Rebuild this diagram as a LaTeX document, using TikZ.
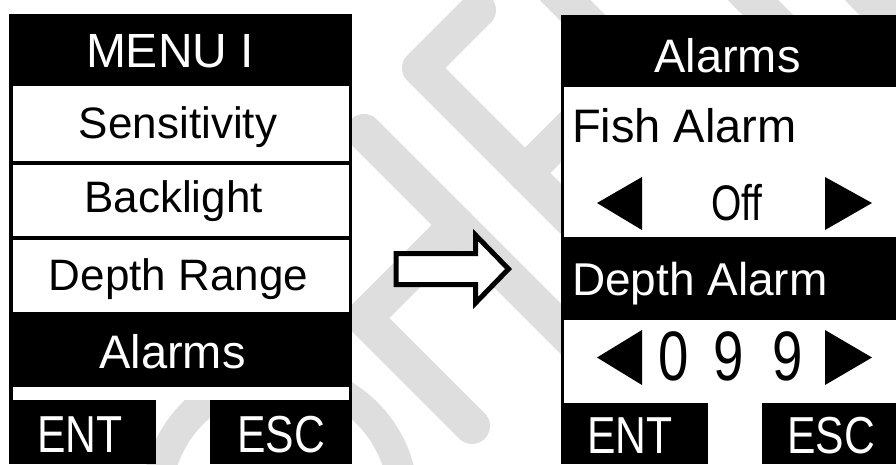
\documentclass[tikz,border=0pt]{standalone}
\usepackage{fontspec}
\setmainfont{Liberation Sans}
\newfontfamily\lcdnarrow{Liberation Sans}[FakeStretch=0.78]
\newfontfamily\keynarrow{Liberation Sans}[FakeStretch=0.82]
\newcommand\lcdsize[1]{\fontsize{#1pt}{#1pt}\selectfont}
\definecolor{wmgray}{HTML}{DEDEDE}

\begin{document}
\begin{tikzpicture}[x=1pt,y=-1pt]
    \tikzstyle{every node} = [inner sep=0pt, outer sep=0pt]
    \tikzstyle{menurow} = [fill=white, minimum width=336pt]
    \tikzstyle{softkey} = [fill=black, anchor=north west, minimum height=64pt]
    \tikzstyle{lcd} = [anchor=base]
    \tikzstyle{inv} = [anchor=base, text=white]
    \tikzstyle{keytext} = [anchor=base, text=white, font=\keynarrow\lcdsize{52}]
    \tikzstyle{wmark} = [line width=36pt, draw=wmgray, line cap=round, line join=round]

    \useasboundingbox (0,0) rectangle (896,464);
    \clip (0,0) rectangle (896,464);
    \fill[white] (0,0) rectangle (896,464);

    % watermark
    \draw[wmark] (478,10) -- (420,68) -- (640,288);
    \draw[wmark] (525,173) -- (630,68);
    \draw[wmark] (364,132) -- (640,408);
    \draw[wmark] (457,225) -- (364,318) -- (472,426);
    \draw[wmark, line width=30pt] (280,500) circle[radius=123];
    \draw[wmark] (555,-10) -- (620,55);
    \draw[wmark] (743,-10) -- (800,47);
    \draw[wmark] (860,-10) -- (920,50);

    % menu screen
    \fill (9,14) rectangle (352,400);
    \node[menurow, minimum height=75pt] (sens) at (181,123.5) {};
    \node[menurow, minimum height=71pt] (back) at (181,200.5) {};
    \node[menurow, minimum height=72pt] (depth) at (181,276) {};
    \node[menurow, minimum height=13pt] (gapL) at (181,393.5) {};
    \node[softkey, minimum width=147pt] (entL) at (9,400) {};
    \node[softkey, minimum width=142pt] (escL) at (210,400) {};

    \node[inv, font=\lcdsize{48}] (menuTitle) at (170,67) {MENU I};
    \node[lcd, font=\lcdsize{44}] (sensText) at (178,138) {Sensitivity};
    \node[lcd, font=\lcdsize{44}] (backText) at (173.5,212) {Backlight};
    \node[lcd, font=\lcdsize{44}] (depthText) at (178.5,290) {Depth Range};
    \node[inv, font=\lcdsize{47}] (alarmsText) at (172.5,368) {Alarms};
    \node[keytext] (entTextL) at (80,452) {ENT};
    \node[keytext] (escTextL) at (281,452) {ESC};

    % arrow
    \draw[line width=5pt, fill=white, miter limit=10]
    (396,253.5) -- (475.5,253.5) -- (475.5,235) -- (508.5,269)
    -- (475.5,303) -- (475.5,284.5) -- (396,284.5) -- cycle;

    % alarms screen
    \fill (561,15) rectangle (900,403);
    \node[menurow, minimum height=150pt] (fishRow) at (732,162) {};
    \node[menurow, minimum height=83pt] (valueRow) at (732,361.5) {};
    \node[softkey, minimum width=147pt, minimum height=61pt] (entR) at (561,403) {};
    \node[softkey, minimum width=140pt, minimum height=61pt] (escR) at (762,403) {};

    \node[inv, font=\lcdsize{47}] (alarmsTitle) at (727.5,72) {Alarms};
    \node[lcd, anchor=base west, font=\lcdsize{47}] (fishText) at (572,142) {Fish Alarm};
    \node[lcd, font=\lcdnarrow\lcdsize{50}] (offText) at (737,220) {Off};
    \node[inv, anchor=base west, font=\lcdsize{46}] (depthAlarmText) at (572,295) {Depth Alarm};
    \node[lcd, font=\lcdnarrow\lcdsize{70}] (digitA) at (674,380) {0};
    \node[lcd, font=\lcdnarrow\lcdsize{70}] (digitB) at (729,380) {9};
    \node[lcd, font=\lcdnarrow\lcdsize{70}] (digitC) at (787.5,380) {9};
    \node[keytext] (entTextR) at (630,453) {ENT};
    \node[keytext] (escTextR) at (831,453) {ESC};

    % selector triangles
    \fill (597,203) -- (642,177) -- (642,230) -- cycle;
    \fill (872,203) -- (825,177) -- (825,230) -- cycle;
    \fill (597,357.5) -- (642,330) -- (642,385) -- cycle;
    \fill (872,357.5) -- (825,330) -- (825,385) -- cycle;
\end{tikzpicture}
\end{document}
